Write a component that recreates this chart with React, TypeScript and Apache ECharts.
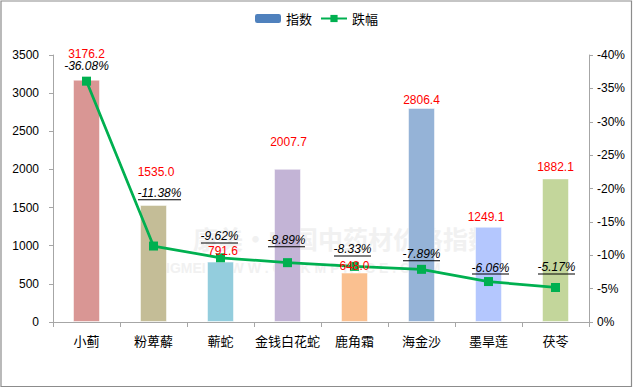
import React, { useEffect, useRef } from "react";
import * as echarts from "echarts";

const categories = ["小蓟", "粉萆薢", "蕲蛇", "金钱白花蛇", "鹿角霜", "海金沙", "墨旱莲", "茯苓"];
const indexValues = [3176.2, 1535.0, 791.6, 2007.7, 648.0, 2806.4, 1249.1, 1882.1];
const declinePct = [-36.08, -11.38, -9.62, -8.89, -8.33, -7.89, -6.06, -5.17];
const leftTicks = { min: 0, max: 3500, interval: 500 };
const rightTicks = { min: 0, max: 40, interval: 5 };

// styling (not data)
const barColors = ["#D99694", "#C4BD97", "#93CDDD", "#C3B4D6", "#FAC090", "#95B3D7", "#B4C7FE", "#C3D69B"];
const barLabelOffsets = [[0, -19.7], [2.5, -27.2], [2.5, -4.9], [1, -21.1], [0, -0.9], [0, -1.9], [-2.5, -3.7], [0, -5.7]];
const lineLabelOffsets = [[0, -4.5], [6, -41.2], [-1, -9.8], [-1, -10.8], [-2, -5.5], [0, -3.5], [2, -2.5], [1, -8.5]];

const FONT = "'Liberation Sans', Arial, sans-serif";
const CJK = "'Noto Sans CJK SC', sans-serif";

export default function App() {
  const ref = useRef<HTMLDivElement>(null);
  useEffect(() => {
    if (!ref.current) return;
    document.body.style.margin = "0";
    const chart = echarts.init(ref.current, null, { renderer: "svg" });
    const axisGray = "#A6A6A6";
    chart.setOption({
      animation: false,
      backgroundColor: "#fff",
      graphic: [
        {
          type: "text",
          z: -10,
          silent: true,
          style: {
            x: 343,
            y: 238,
            text: "康美·中国中药材价格指数",
            fill: "#f1f1f1",
            font: "bold 25px 'Noto Sans CJK SC', sans-serif",
            align: "center",
            verticalAlign: "middle",
          },
        },
        {
          type: "text",
          z: -10,
          silent: true,
          style: {
            x: 290,
            y: 268,
            text: "KANGMEI  W W W . C N K M P R I C E . C O M",
            fill: "#f1f1f1",
            font: "bold 14px 'Liberation Sans', sans-serif",
            align: "center",
            verticalAlign: "middle",
          },
        },
        {
          type: "rect",
          z: 100,
          silent: true,
          shape: { x: 1, y: 1, width: 630.5, height: 385.5 },
          style: { fill: "none", stroke: "#8c8c8c", lineWidth: 1.2 },
        },
      ],
      legend: {
        data: ["指数", "跌幅"],
        top: 7,
        left: "center",
        itemWidth: 26,
        itemHeight: 9,
        itemGap: 8,
        textStyle: { fontSize: 13, color: "#000", fontFamily: CJK },
      },
      grid: { left: 53, right: 44, top: 55, bottom: 66, containLabel: false },
      xAxis: {
        type: "category",
        data: categories,
        axisLine: { lineStyle: { color: axisGray, width: 1 } },
        axisTick: { show: true, length: 5, lineStyle: { color: axisGray } },
        axisLabel: { color: "#000", fontSize: 13, fontFamily: CJK, margin: 12, interval: 0 },
      },
      yAxis: [
        {
          type: "value",
          min: leftTicks.min,
          max: leftTicks.max,
          interval: leftTicks.interval,
          splitLine: { show: false },
          axisLine: { show: true, lineStyle: { color: axisGray } },
          axisTick: { show: true, length: 4, lineStyle: { color: axisGray } },
          axisLabel: {
            color: "#000",
            fontSize: 12,
            fontFamily: FONT,
            margin: 14,
            formatter: (v: number) => String(v),
          },
        },
        {
          type: "value",
          min: rightTicks.min,
          max: rightTicks.max,
          interval: rightTicks.interval,
          splitLine: { show: false },
          axisLine: { show: true, lineStyle: { color: axisGray } },
          axisTick: { show: true, length: 4, lineStyle: { color: axisGray } },
          axisLabel: {
            color: "#000",
            fontSize: 12,
            fontFamily: FONT,
            margin: 8,
            formatter: (v: number) => (v === 0 ? "0%" : "-" + v + "%"),
          },
        },
      ],
      series: [
        {
          name: "指数",
          type: "bar",
          yAxisIndex: 0,
          barWidth: 27,
          barGap: "-100%",
          itemStyle: { color: "#4F81BD" },
          z: 2,
          data: indexValues.map((v, i) => ({
            value: v,
            itemStyle: { color: barColors[i], borderColor: "rgba(255,255,255,0.5)", borderWidth: 1 },
          })),
        },
        {
          name: "跌幅",
          type: "line",
          yAxisIndex: 1,
          symbol: "rect",
          symbolSize: 9,
          z: 3,
          lineStyle: { color: "#00B050", width: 2.75 },
          itemStyle: { color: "#00B050" },
          data: declinePct.map((v, i) => ({
            value: Math.abs(v),
            label: { offset: lineLabelOffsets[i] },
          })),
          label: {
            show: true,
            position: "top",
            distance: 0,
            formatter: (p: any) => {
              const s = declinePct[p.dataIndex].toFixed(2) + "%";
              if (p.dataIndex === 0) return "{t|" + s + "}";
              return "{t|" + s + "}\n{" + (s.length > 6 ? "u7" : "u6") + "|}";
            },
            rich: {
              t: {
                fontSize: 12,
                lineHeight: 12,
                fontStyle: "italic",
                color: "#000",
                fontFamily: FONT,
                align: "center",
              },
              u6: { width: 37, height: 1, lineHeight: 1, backgroundColor: "#000", align: "center" },
              u7: { width: 43, height: 1, lineHeight: 1, backgroundColor: "#000", align: "center" },
            },
          },
        },
        {
          name: "指数标签",
          type: "bar",
          yAxisIndex: 0,
          barWidth: 27,
          barGap: "-100%",
          z: 5,
          silent: true,
          itemStyle: { color: "rgba(0,0,0,0)" },
          data: indexValues.map((v, i) => ({
            value: v,
            label: { offset: barLabelOffsets[i] },
          })),
          label: {
            show: true,
            position: "top",
            distance: 0,
            color: "#FF0000",
            fontSize: 12,
            lineHeight: 12,
            fontFamily: FONT,
            formatter: (p: any) => Number(p.value).toFixed(1),
          },
        },
      ],
    });
    return () => chart.dispose();
  }, []);
  return (
    <div
      ref={ref}
      style={{ position: "absolute", left: 0, top: 0, width: 633, height: 388, background: "#fff" }}
    />
  );
}
